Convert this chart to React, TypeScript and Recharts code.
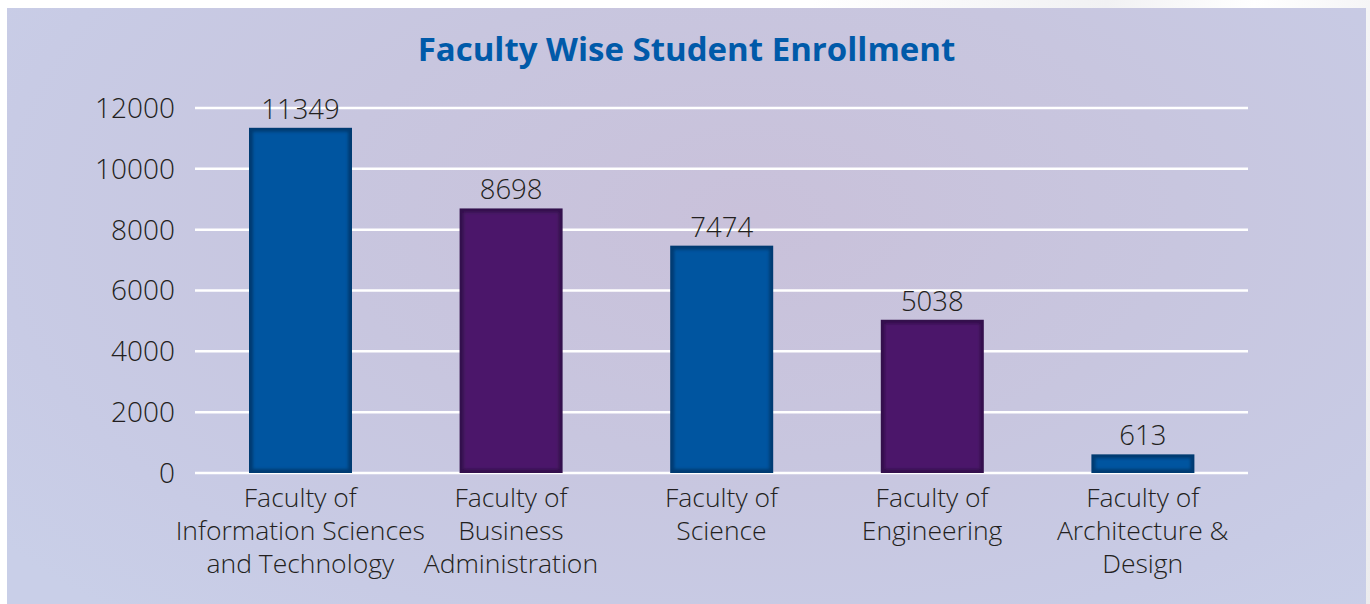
import React from 'react';
import { BarChart, Bar, XAxis, YAxis, CartesianGrid, Cell, LabelList } from 'recharts';

const faculties = [
  'Faculty of\nInformation Sciences\nand Technology',
  'Faculty of\nBusiness\nAdministration',
  'Faculty of\nScience',
  'Faculty of\nEngineering',
  'Faculty of\nArchitecture &\nDesign',
];
const enrollment = [11349, 8698, 7474, 5038, 613];
const yTicks = [0, 2000, 4000, 6000, 8000, 10000, 12000];

const barColors = ['#0055a0', '#4c176a', '#0055a0', '#4c176a', '#0055a0'];
const edgeColors = ['#003b72', '#33104c', '#003b72', '#33104c', '#003b72'];

const data = faculties.map((name, i) => ({ name, value: enrollment[i], idx: i }));

const FONT = '"Open Sans", "Noto Sans", sans-serif';

const BevelBar = (props: any) => {
  const { x, y, width, height, payload } = props;
  if (!height || height <= 0) return null;
  const i = payload.idx;
  const inset = Math.min(4, height / 3);
  return (
    <g>
      <rect x={x} y={y} width={width} height={height} fill={edgeColors[i]} />
      <rect
        x={x + inset}
        y={y + inset}
        width={width - inset * 2}
        height={Math.max(0, height - inset * 2)}
        fill={barColors[i]}
        filter="url(#soften)"
      />
    </g>
  );
};

const WrappedTick = (props: any) => {
  const { x, y, payload } = props;
  const lines = String(payload.value).split('\n');
  return (
    <text x={x} y={y} textAnchor="middle" fill="#231f20" fontSize={26.5} fontWeight={300} fontFamily={FONT}>
      {lines.map((line, k) => (
        <tspan key={k} x={x} dy={k === 0 ? 34 : 33}>
          {line}
        </tspan>
      ))}
    </text>
  );
};

const App: React.FC = () => {
  return (
    <div
      style={{
        position: 'absolute',
        left: 0,
        top: 0,
        width: 1370,
        height: 604,
        overflow: 'hidden',
        background: 'linear-gradient(100deg, #ffffff 55%, #f1f1f3 75%, #ffffff 85%, #ececee 100%)',
      }}
    >
      <div
        style={{
          position: 'absolute',
          left: 7,
          top: 8,
          width: 1359,
          height: 596,
          background:
            'radial-gradient(ellipse 70% 90% at 55% 35%, #c9c1da 0%, #c8c6df 45%, #c8cbe5 80%, #c9cfe8 100%)',
        }}
      >
        <div
          style={{
            position: 'absolute',
            left: 0,
            top: 21,
            width: 1359,
            textAlign: 'center',
            fontFamily: FONT,
            fontWeight: 700,
            fontSize: 33,
            color: '#005aa9',
            lineHeight: '40px',
          }}
        >
          Faculty Wise Student Enrollment
        </div>
        <BarChart
          width={1359}
          height={596}
          data={data}
          margin={{ top: 100, right: 118, bottom: 11, left: 0 }}
          style={{ position: 'absolute', left: 0, top: 0 }}
        >
          <defs>
            <filter id="soften" x="-10%" y="-10%" width="120%" height="120%">
              <feGaussianBlur stdDeviation="1.8" />
            </filter>
          </defs>
          <CartesianGrid vertical={false} stroke="#ffffff" strokeWidth={2.5} />
          <XAxis
            dataKey="name"
            axisLine={false}
            tickLine={false}
            tickSize={0}
            tickMargin={0}
            height={120}
            interval={0}
            tick={<WrappedTick />}
          />
          <YAxis
            domain={[0, 12000]}
            ticks={yTicks}
            axisLine={false}
            tickLine={false}
            tickSize={0}
            tickMargin={20}
            width={188}
            tick={{ fill: '#231f20', fontSize: 28, fontWeight: 300, fontFamily: FONT }}
          />
          <Bar dataKey="value" barSize={103} shape={<BevelBar />} isAnimationActive={false}>
            {data.map((d, i) => (
              <Cell key={i} fill={barColors[i]} />
            ))}
            <LabelList
              dataKey="value"
              position="top"
              offset={9}
              fill="#231f20"
              fontSize={27.5}
              fontWeight={300}
              fontFamily={FONT}
            />
          </Bar>
        </BarChart>
      </div>
    </div>
  );
};

export default App;
